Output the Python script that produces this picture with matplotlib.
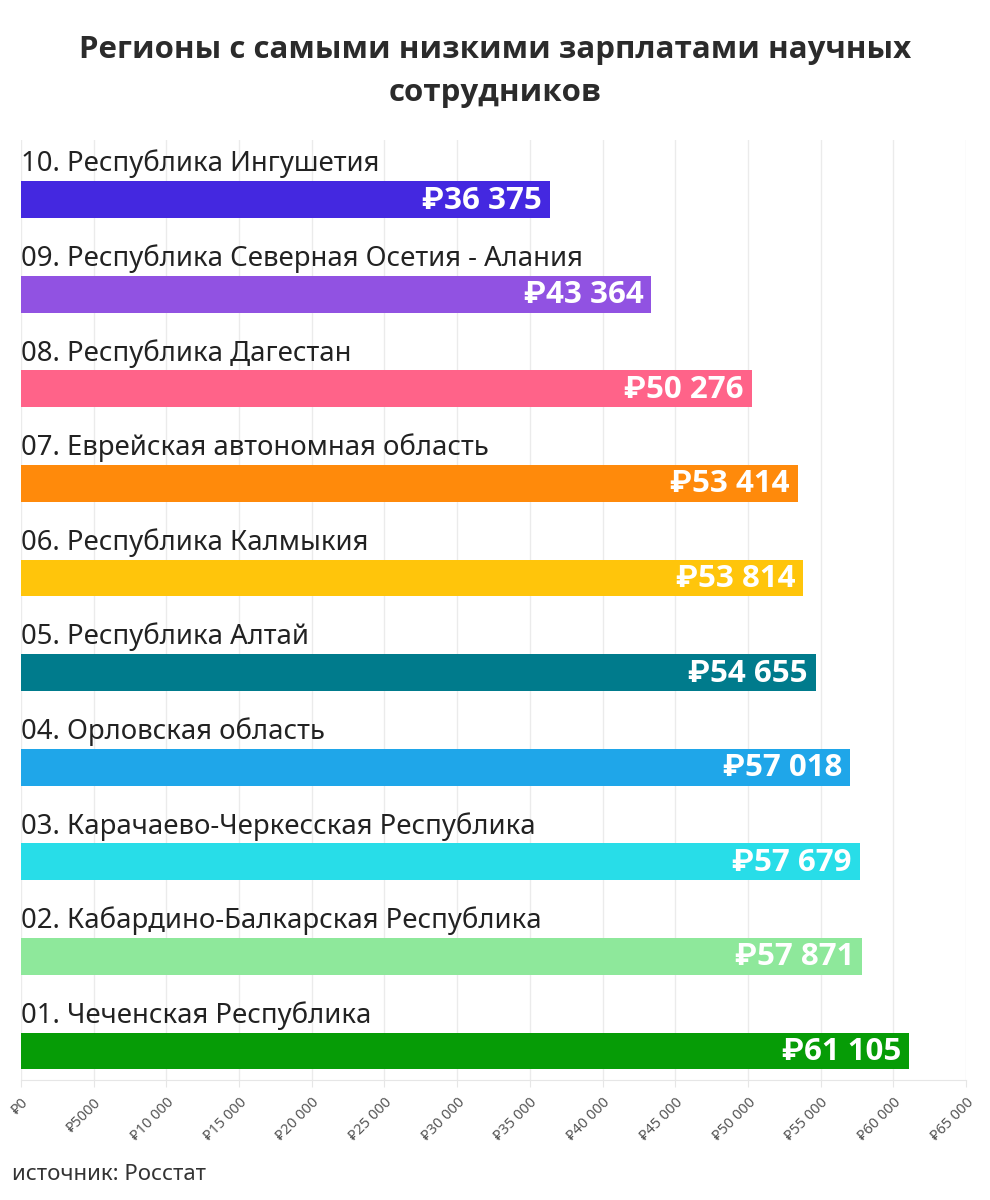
import matplotlib.pyplot as plt
from matplotlib.ticker import FixedLocator

# data (top to bottom as in the picture)
regions = [
    "10. Республика Ингушетия",
    "09. Республика Северная Осетия - Алания",
    "08. Республика Дагестан",
    "07. Еврейская автономная область",
    "06. Республика Калмыкия",
    "05. Республика Алтай",
    "04. Орловская область",
    "03. Карачаево-Черкесская Республика",
    "02. Кабардино-Балкарская Республика",
    "01. Чеченская Республика",
]
salaries = [36375, 43364, 50276, 53414, 53814, 54655, 57018, 57679, 57871, 61105]
value_labels = ["₽36 375", "₽43 364", "₽50 276", "₽53 414", "₽53 814",
                "₽54 655", "₽57 018", "₽57 679", "₽57 871", "₽61 105"]
colors = ["#4428e0", "#9152e2", "#ff6389", "#ff8a0b", "#ffc50b",
          "#007b8c", "#1fa6e9", "#28dde8", "#8ee89b", "#069c06"]
tick_values = list(range(0, 65001, 5000))
tick_labels = ["₽0", "₽5000", "₽10 000", "₽15 000", "₽20 000", "₽25 000",
               "₽30 000", "₽35 000", "₽40 000", "₽45 000", "₽50 000",
               "₽55 000", "₽60 000", "₽65 000"]

plt.rcParams['font.family'] = ['Noto Sans', 'DejaVu Sans']
bold_fam = ['Open Sans', 'Roboto', 'DejaVu Sans']

W, H = 990, 1200
fig = plt.figure(figsize=(W / 100, H / 100), dpi=100)
ax = fig.add_axes([21 / W, 1 - 1080 / H, (966 - 21) / W, (1080 - 140) / H])

n = len(regions)
ypos = [n - 1 - i for i in range(n)]
bar_h = 0.39

ax.barh(ypos, salaries, height=bar_h, color=colors, zorder=2)

for y, name, val, lab in zip(ypos, regions, salaries, value_labels):
    ax.text(0, y + 0.375, name, fontsize=19.8, color="#222222",
            va="center", ha="left", zorder=3)
    ax.text(val - 550, y - 0.01, lab, fontsize=22.5, fontweight="bold",
            family=bold_fam, color="white", va="center", ha="right", zorder=3)

ax.set_xlim(0, 65000)
ax.set_ylim(-0.307, 9.63)

ax.xaxis.set_major_locator(FixedLocator(tick_values))
ax.set_xticklabels(tick_labels, rotation=45, ha="right", va="top",
                   rotation_mode="anchor", fontsize=10.5, color="#555555")
ax.tick_params(axis="x", length=5, color="#e6e6e6", pad=6)
ax.set_yticks([])
ax.grid(axis="x", color="#ebebeb", linewidth=1, zorder=0)
for side in ["top", "right", "left"]:
    ax.spines[side].set_visible(False)
ax.spines["bottom"].set_color("#e6e6e6")

fig.text(0.5, 1 - 50 / H, "Регионы с самыми низкими зарплатами научных",
         ha="center", va="center", fontsize=22.5, fontweight="bold",
         family=bold_fam, color="#2b2b2b")
fig.text(0.5, 1 - 93 / H, "сотрудников",
         ha="center", va="center", fontsize=22.5, fontweight="bold",
         family=bold_fam, color="#2b2b2b")

fig.text(12 / W, 1 - 1175 / H, "источник: Росстат", ha="left", va="center",
         fontsize=16, color="#333333")

fig.savefig("out.png", dpi=100)
